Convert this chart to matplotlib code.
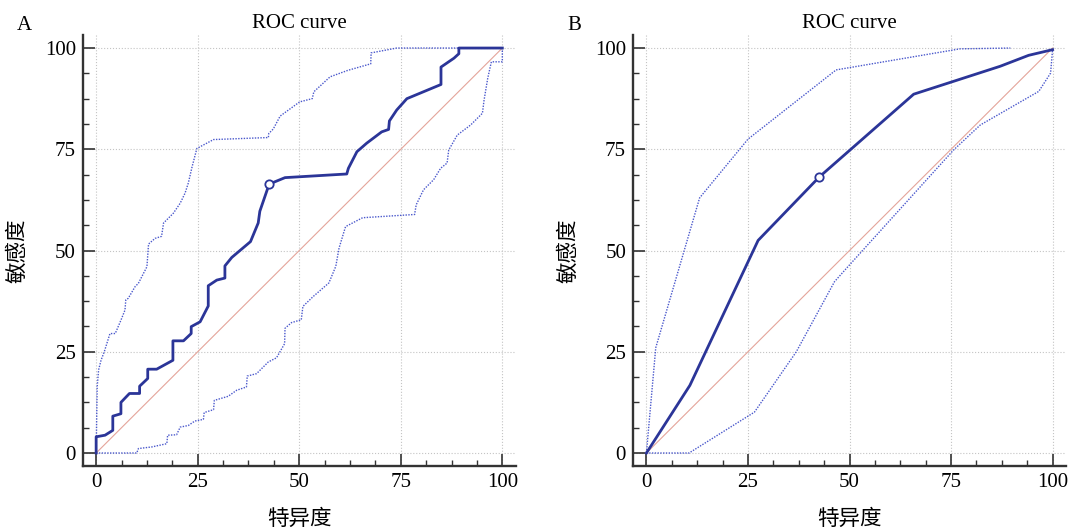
import numpy as np
import matplotlib
matplotlib.use("Agg")
import matplotlib.pyplot as plt
from matplotlib.ticker import MultipleLocator

plt.rcParams['font.family'] = ['Liberation Serif', 'Noto Sans CJK SC', 'DejaVu Sans']

# A 面板：阶梯状 ROC 曲线 (特异度 x, 敏感度 y)
a_x = [0, 0, 2.2, 4.1, 4.1, 6.1, 6.1, 8.2, 10.7, 10.7, 12.7, 12.7, 14.9, 18.9, 18.9,
       21.5, 23.4, 23.4, 25.6, 27.6, 27.6, 29.7, 31.7, 31.7, 33.4, 38.0, 39.9, 40.3,
       42.6, 46.5, 61.7, 62.1, 64.2, 66.6, 70.3, 72.0, 72.2, 74.0, 76.5, 84.9, 84.9,
       88.1, 89.3, 89.3, 100]
a_y = [0, 4, 4.4, 5.6, 9.1, 9.7, 12.5, 14.7, 14.7, 16.5, 18.4, 20.7, 20.7, 22.9, 27.7,
       27.7, 29.5, 31.2, 32.4, 36.3, 41.3, 42.7, 43.2, 46.2, 48.3, 52.2, 56.8, 59.7,
       66.4, 68.0, 68.9, 70.3, 74.4, 76.5, 79.3, 79.9, 82.0, 84.7, 87.5, 91.0, 95.3,
       97.5, 98.6, 100, 100]
a_up_x = [0, 0.25, 0.6, 1.2, 2.0, 3.4, 4.7, 6.1, 7.1, 7.3, 7.9, 9.6, 10.4, 12.5, 12.9,
          14.5, 16.1, 16.6, 19.0, 20.7, 21.9, 22.7, 23.6, 24.8, 28.9, 42.4, 42.5, 43.6,
          45.3, 50.1, 53.2, 53.6, 57.6, 62.0, 67.6, 67.7, 74.0, 100]
a_up_y = [0, 16.3, 20.5, 22.9, 25.0, 29.5, 29.5, 32.8, 35.3, 37.8, 38.2, 41.1, 41.9, 46.0,
          51.6, 53.0, 53.5, 56.8, 59.2, 61.7, 64.2, 66.7, 70.6, 75.2, 77.4, 77.9, 78.9,
          80.0, 83.2, 86.7, 87.5, 89.2, 92.9, 94.5, 96.1, 98.8, 100, 100]
a_lo_x = [0, 10.0, 10.4, 13.7, 17.4, 17.6, 19.8, 20.7, 22.7, 24.3, 26.4, 26.6, 28.9, 29.1,
          32.5, 34.6, 37.0, 37.2, 39.5, 41.6, 42.4, 44.4, 46.4, 46.5, 48.1, 50.5, 50.9,
          53.5, 57.3, 59.0, 59.8, 61.4, 65.6, 78.4, 78.8, 80.6, 83.1, 84.8, 86.4, 86.8,
          88.9, 92.2, 95.1, 95.5, 96.4, 97.3, 100, 100]
a_lo_y = [0, 0, 1.1, 1.5, 2.3, 4.4, 4.5, 6.4, 6.8, 7.9, 8.3, 10.0, 10.7, 13.0, 14.0, 15.5,
          16.3, 19.0, 19.6, 21.7, 22.5, 23.5, 27.0, 30.8, 32.2, 32.9, 36.2, 38.7, 42.0,
          46.1, 50.6, 55.9, 58.1, 58.9, 61.3, 65.0, 67.5, 70.3, 71.6, 74.8, 78.5, 81.0,
          83.9, 87.1, 92.5, 96.6, 96.6, 100]
a_cut = (42.6, 66.4)

# B 面板
b_x = [0, 10.7, 27.5, 42.6, 65.8, 87.1, 94.1, 100]
b_y = [0, 16.7, 52.5, 68.2, 88.6, 95.5, 98.2, 99.6]
b_up_x = [0, 2.3, 13.1, 25.0, 46.7, 77.2, 89.6]
b_up_y = [0, 26.0, 63.0, 77.5, 94.6, 99.8, 100]
b_lo_x = [0, 10.5, 26.6, 36.9, 46.3, 49.6, 75.6, 82.2, 96.6, 99.5, 100]
b_lo_y = [0, 0, 10.1, 25.0, 42.3, 46.0, 74.8, 81.0, 89.3, 93.8, 99.6]
b_cut = (42.6, 68.2)

ticks = [0, 25, 50, 75, 100]

main_c = '#2b3598'
ci_c = '#4a58cc'
diag_c = '#e4a49a'

fig = plt.figure(figsize=(10.76, 5.31), dpi=100)
axA = fig.add_axes([0.0769, 0.1217, 0.4024, 0.813])
axB = fig.add_axes([0.5883, 0.1217, 0.4024, 0.813])


def draw(ax, x, y, ux, uy, lx, ly, cut, letter):
    ax.plot([0, 100], [0, 100], color=diag_c, lw=0.8, zorder=2)
    ax.plot(ux, uy, color=ci_c, lw=1.0, ls=(0, (1, 1)), zorder=3)
    ax.plot(lx, ly, color=ci_c, lw=1.0, ls=(0, (1, 1)), zorder=3)
    ax.plot(x, y, color=main_c, lw=2.0, zorder=4)
    ax.plot(cut[0], cut[1], 'o', ms=6, mfc='white', mec=main_c, mew=1.3, zorder=5)
    ax.set_xlim(-3.3, 103.3)
    ax.set_ylim(-3.3, 103.3)
    ax.set_xticks(ticks)
    ax.set_yticks(ticks)
    ax.xaxis.set_minor_locator(MultipleLocator(6.25))
    ax.yaxis.set_minor_locator(MultipleLocator(6.25))
    ax.grid(True, which='major', color='#c4c4c4', ls=':', lw=0.8, zorder=1)
    ax.tick_params(which='major', direction='in', length=8.5, width=1.2,
                   color='#333333', labelsize=15, pad=5)
    ax.tick_params(which='minor', direction='in', length=4.5, width=1.0, color='#333333')
    for s in ['top', 'right']:
        ax.spines[s].set_visible(False)
    for s in ['left', 'bottom']:
        ax.spines[s].set_linewidth(1.7)
        ax.spines[s].set_color('#333333')
    ax.set_title('ROC curve', fontsize=15, pad=5)
    ax.set_xlabel('特异度', fontsize=15.5, family=['Noto Sans CJK SC'])
    ax.set_ylabel('敏感度', fontsize=15.5, family=['Noto Sans CJK SC'])
    ax.xaxis.set_label_coords(0.5, -0.095)
    ax.yaxis.set_label_coords(-0.125, 0.5)
    ax.text(-0.152, 1.01, letter, transform=ax.transAxes, fontsize=15)


draw(axA, a_x, a_y, a_up_x, a_up_y, a_lo_x, a_lo_y, a_cut, 'A')
draw(axB, b_x, b_y, b_up_x, b_up_y, b_lo_x, b_lo_y, b_cut, 'B')

fig.savefig('out.png', dpi=100)
